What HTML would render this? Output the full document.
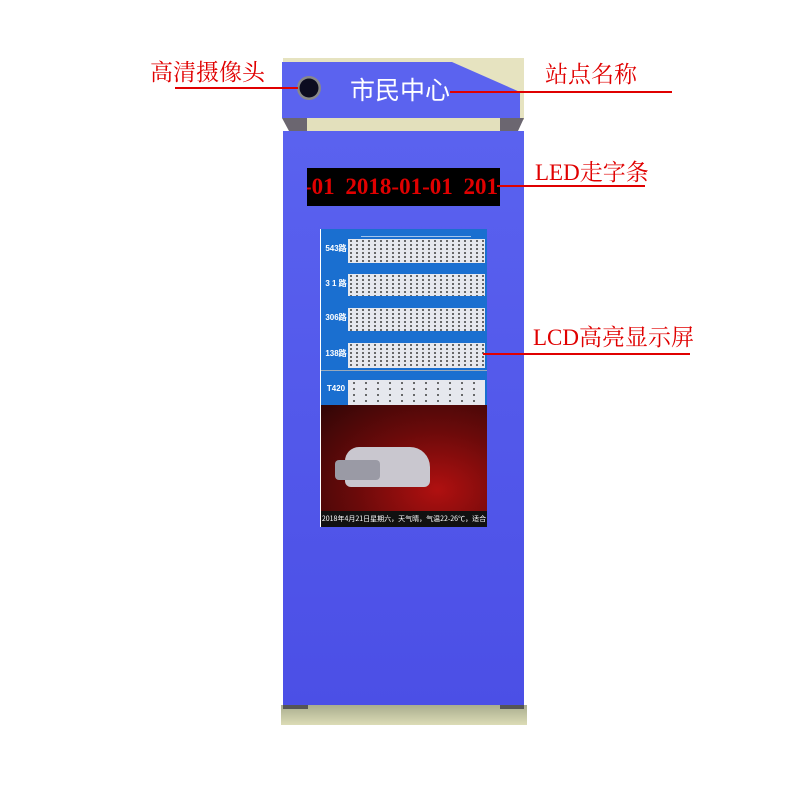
<!DOCTYPE html>
<html><head><meta charset="utf-8"><style>
body{margin:0;width:800px;height:800px;background:#fff;position:relative;overflow:hidden;font-family:"Liberation Serif","Noto Serif CJK SC",serif}
.a{position:absolute}
.lbl{position:absolute;color:#e00000;font-size:23px;white-space:nowrap;line-height:26px}
.ln{position:absolute;height:2px;background:#e00000}
.row{position:absolute;left:321px;width:166px;background:#1a6fd0}
.row .n{position:absolute;left:2px;width:26px;color:#fff;font:bold 8px "Liberation Sans",sans-serif;text-align:center}
.row .p{position:absolute;left:27px;right:2px;background:#e6e8ee;background-image:radial-gradient(circle,#444 0.8px,transparent 1.1px);background-size:6px 4px}
.row .h{position:absolute;left:40px;top:1px;width:110px;height:6px;border-bottom:1px solid #fff;opacity:.6}
</style></head><body>
<div class="a" style="left:283px;top:58px;width:241px;height:62px;background:#e6e3c0"></div>
<svg class="a" style="left:0;top:0" width="800" height="800">
<polygon points="282,62 452,62 520,92 520,118 282,118" fill="#5b63ef"/>
<polygon points="282,118 307,118 307,131 289,131" fill="#6b6670"/>
<polygon points="500,118 524,118 518,131 500,131" fill="#6b6670"/>
<rect x="307" y="118" width="193" height="13" fill="#e3e0bc"/>
<circle cx="309" cy="88" r="12" fill="#888"/>
<circle cx="309" cy="88" r="9.5" fill="#0c0c20"/>
</svg>
<div class="a" style="left:350px;top:74px;color:#fff;font:25px 'Noto Sans CJK SC',sans-serif;line-height:30px">市民中心</div>
<div class="a" style="left:283px;top:131px;width:241px;height:574px;background:linear-gradient(#5a62ef,#4b4fe6)"></div>
<div class="a" style="left:281px;top:705px;width:246px;height:20px;background:linear-gradient(#a9ad8e,#dcdcb6)"></div>
<div class="a" style="left:283px;top:705px;width:25px;height:4px;background:#555"></div>
<div class="a" style="left:500px;top:705px;width:24px;height:4px;background:#555"></div>
<div class="a" style="left:307px;top:168px;width:193px;height:38px;background:#000;overflow:hidden">
<div style="position:absolute;left:-3px;top:4px;color:#e00000;font:bold 23px 'Liberation Serif',serif;white-space:nowrap;line-height:30px;word-spacing:5px">-01 2018-01-01 201</div></div>
<div class="a" style="left:320px;top:229px;width:167px;height:298px;background:#fff"></div>
<div class="row" style="top:229px;height:36px"><div class="n" style="top:14px">543路</div><div class="h"></div><div class="p" style="top:10px;height:24px"></div></div>
<div class="row" style="top:265px;height:33px"><div class="n" style="top:13px">3 1 路</div><div class="p" style="top:9px;height:22px"></div></div>
<div class="row" style="top:298px;height:35px"><div class="n" style="top:14px">306路</div><div class="p" style="top:10px;height:23px"></div></div>
<div class="row" style="top:333px;height:37px"><div class="n" style="top:15px">138路</div><div class="p" style="top:10px;height:25px"></div></div>
<div class="row" style="top:370px;height:35px;border-top:1px solid #9ab"><div class="n" style="top:13px">T420</div><div class="p" style="top:9px;height:26px;background-size:12px 6px"></div></div>
<div class="a" style="left:321px;top:405px;width:166px;height:106px;background:radial-gradient(ellipse at 70% 80%,#b01010,#6a0a0a 50%,#300606)"></div>
<div class="a" style="left:345px;top:447px;width:85px;height:40px;background:#c9c7cf;border-radius:14px 20px 6px 6px"></div>
<div class="a" style="left:335px;top:460px;width:45px;height:20px;background:#9a9aa5;border-radius:4px"></div>
<div class="a" style="left:321px;top:511px;width:166px;height:16px;background:#111;color:#fff;font:7px 'Noto Sans CJK SC',sans-serif;line-height:16px;text-align:center">2018年4月21日星期六，天气晴，气温22-26℃，适合</div>
<div class="lbl" style="left:150px;top:60px">高清摄像头</div>
<div class="ln" style="left:175px;top:87px;width:123px"></div>
<div class="lbl" style="left:545px;top:62px">站点名称</div>
<div class="ln" style="left:450px;top:91px;width:222px"></div>
<div class="lbl" style="left:535px;top:160px">LED走字条</div>
<div class="ln" style="left:497px;top:185px;width:148px"></div>
<div class="lbl" style="left:533px;top:325px">LCD高亮显示屏</div>
<div class="ln" style="left:483px;top:353px;width:207px"></div>
</body></html>
